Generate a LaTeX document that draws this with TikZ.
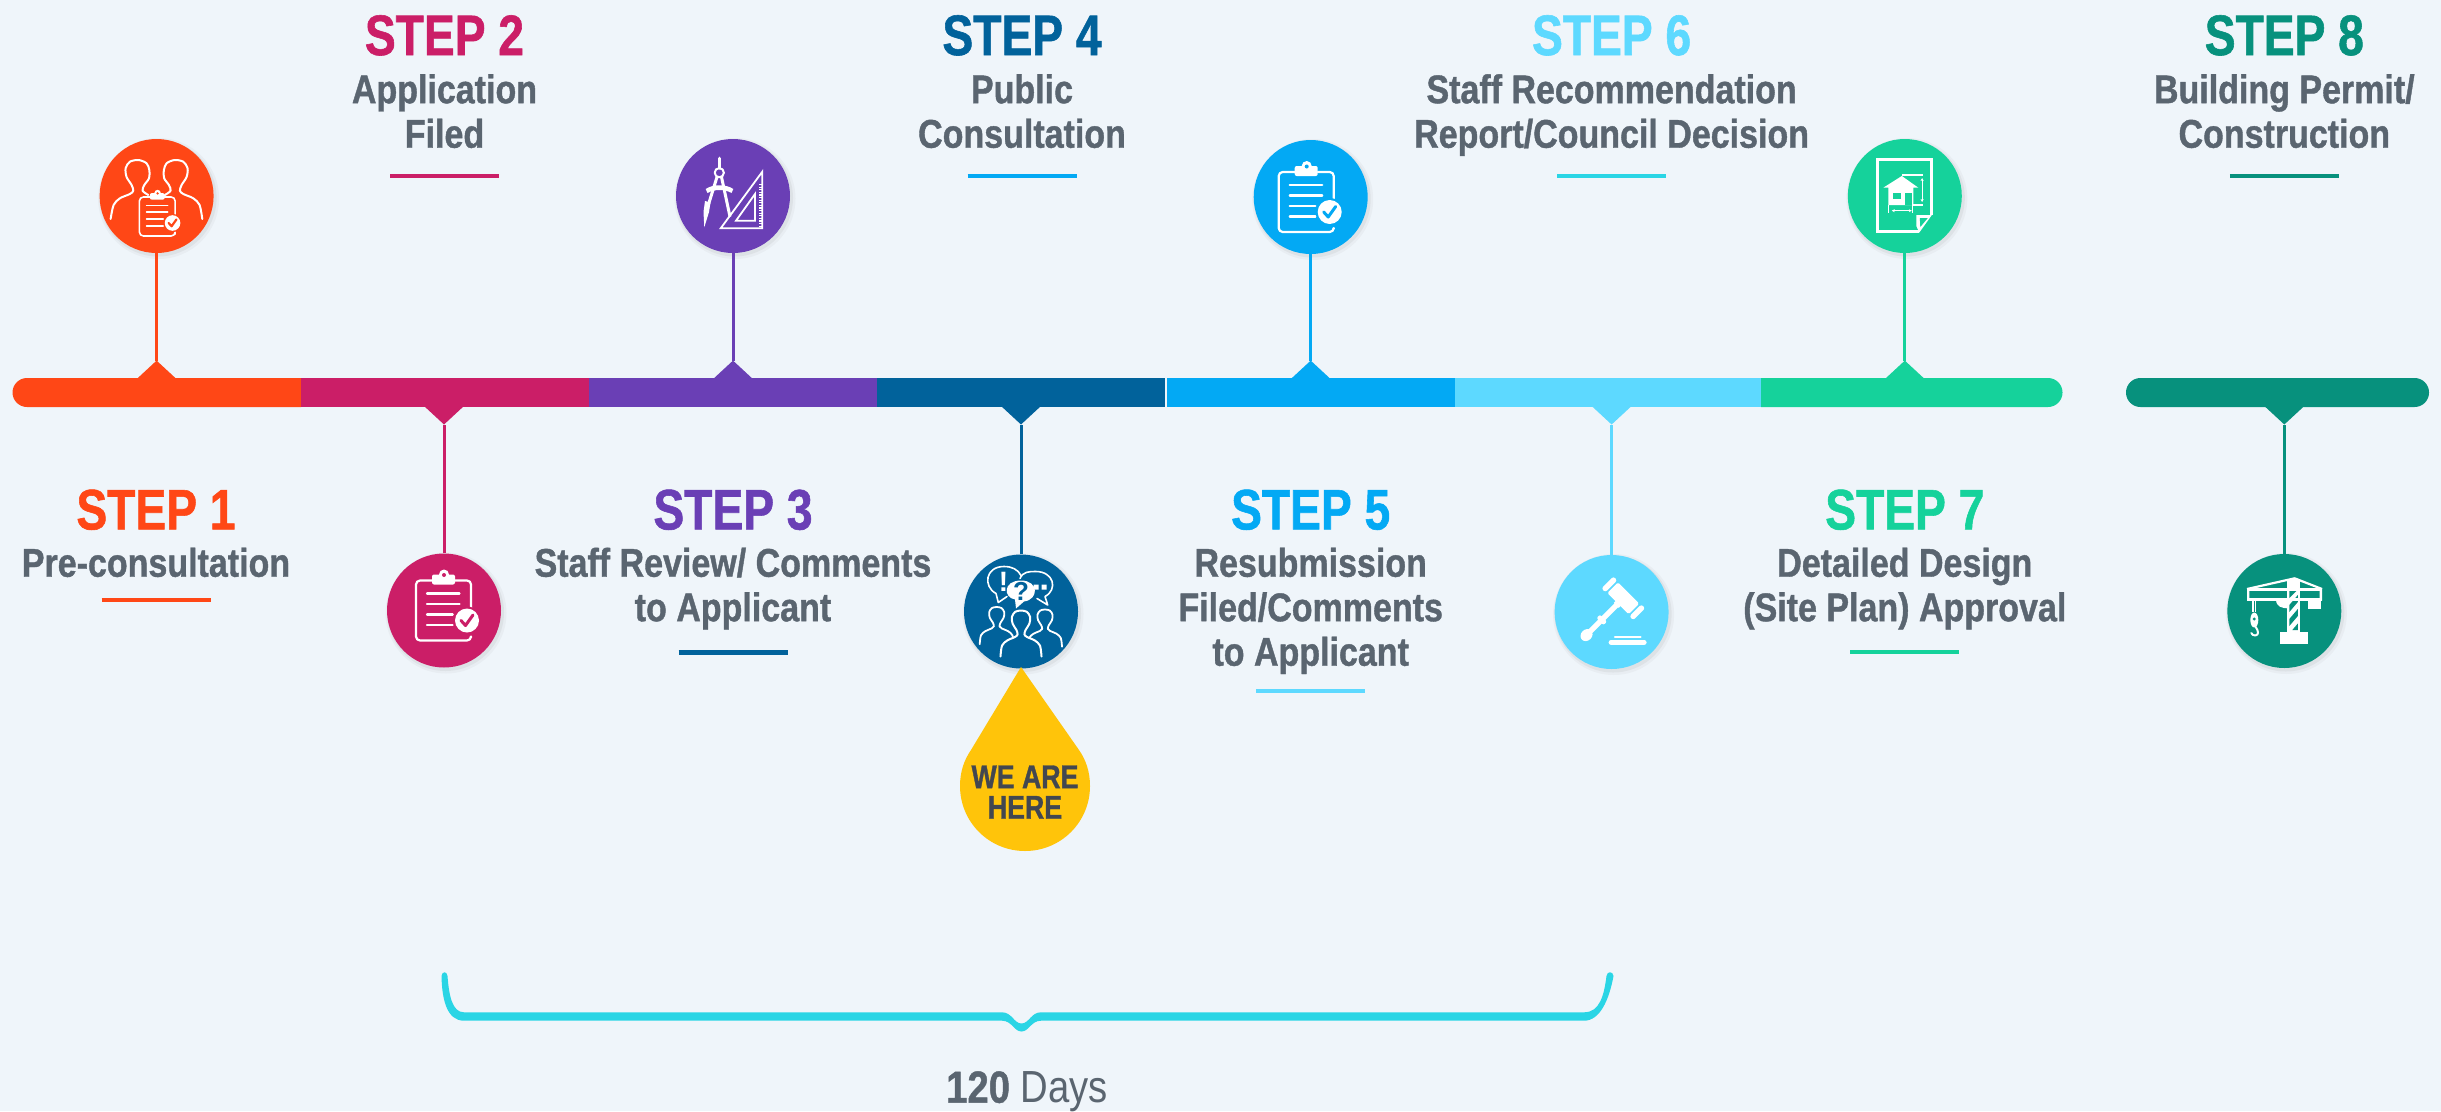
\documentclass[tikz,border=0pt]{standalone}
\usepackage{fontspec}
\usetikzlibrary{arrows.meta}
\setmainfont{Liberation Sans}
\newfontfamily\headfont[FakeStretch=0.81,BoldFeatures={FakeBold=1.0}]{Liberation Sans}
\newfontfamily\subfont[FakeStretch=0.85,BoldFeatures={FakeBold=1.0}]{Liberation Sans}
\definecolor{bgc}{HTML}{EFF5FA}
\definecolor{cOne}{HTML}{FF4716}
\definecolor{cTwo}{HTML}{CB1E67}
\definecolor{cThree}{HTML}{6A3FB5}
\definecolor{cFour}{HTML}{01629B}
\definecolor{cFive}{HTML}{03A9F4}
\definecolor{cSix}{HTML}{5DD9FF}
\definecolor{cSeven}{HTML}{15D29B}
\definecolor{cEight}{HTML}{07917D}
\definecolor{cBrace}{HTML}{2AD5E5}
\definecolor{cText}{HTML}{5A6570}
\definecolor{cDrop}{HTML}{FFC40A}
\definecolor{cDark}{HTML}{424750}
\tikzset{
  disc/.style={circle,inner sep=0pt,minimum size=114pt,fill=#1},
  link/.style={draw=#1,line width=3pt},
  ruleline/.style={draw=#1,line width=4.2pt},
  headtext/.style={inner sep=0pt,anchor=base,text=#1,font=\headfont\bfseries\fontsize{57}{57}\selectfont},
  subtext/.style={inner sep=0pt,anchor=north,align=center,text=cText,font=\subfont\bfseries\fontsize{40}{44.5}\selectfont},
  ico/.style={draw=white,line width=#1,line cap=round,line join=round},
  ico/.default=2pt
}
\newcommand\stepinfo[9]{%
  \node[headtext=#4] (h#1) at (#2,#5) {#3};
  \node[subtext] (s#1) at (#2,#7-30) {\rule{0pt}{30pt}#6};
  \draw[ruleline=#8] (#2-54.5,#9) -- (#2+54.5,#9);
}
% disc with soft shadow
\newcommand\stepdisc[4]{%
  \fill[black!45,opacity=.07] (#2+2,#3+2.5) circle (60.5);
  \fill[black!45,opacity=.11] (#2+1.5,#3+2) circle (58.5);
  \node[disc=#4] (#1) at (#2,#3) {};
}
% clipboard icon: #1 background colour, #2 line width, #3 check width
\newcommand\clipboard[3]{%
  \draw[ico=#2,rounded corners=4pt] (-12,-30)--(-28,-30)--(-28,30)--(27,30)--(27,27);
  \draw[ico=#2,rounded corners=4pt] (11,-30)--(27,-30)--(27,3);
  \fill[white,rounded corners=2pt] (-12,-26) rectangle (11,-36);
  \fill[white] (0,-36) circle (5);
  \fill[#1] (0,-35.5) circle (2);
  \draw[ico=#2] (-17,-17)--(15.5,-17) (-17,-6.5)--(15.5,-6.5) (-17,4)--(8.7,4) (-17,14.5)--(8.7,14.5);
  \fill[#1] (23,10) circle (14);
  \fill[white] (23,10) circle (12);
  \draw[draw=#1,line width=#3,line cap=round,line join=round] (17,10)--(21.5,15)--(29,4.5);
}
% bust outline, local origin at the top of the head
\newcommand\bust[1]{%
  \draw[#1] plot[smooth] coordinates {(-27,59) (-25,45) (-18,38.3) (-8,34) (-4.5,30.7) (-6,25) (-11,17) (-12,8.3) (-7.7,1.7) (0,0) (7.7,1.7) (12,8.3) (11,17) (6,25) (4.5,30.7) (8,34) (18,38.3) (25,45) (27,59)};
}
\begin{document}
\begin{tikzpicture}[x=1pt,y=-1pt]
\useasboundingbox (0,0) rectangle (2441,1111);
\fill[bgc] (0,0) rectangle (2441,1111);

% ---------- timeline bar
\fill[cOne] (301,378) -- (27,378) arc[start angle=90,end angle=270,x radius=14.5,y radius=-14.5] -- (301,407) -- cycle;
\fill[cTwo] (301,378) rectangle (589,407);
\fill[cThree] (589,378) rectangle (877,407);
\fill[cFour] (877,378) rectangle (1165,407);
\fill[cFive] (1166.5,378) rectangle (1455,407);
\fill[cSix] (1455,378) rectangle (1761,407);
\fill[cSeven] (1761,378) -- (2048,378) arc[start angle=90,end angle=-90,x radius=14.5,y radius=-14.5] -- (1761,407) -- cycle;
\fill[cEight,rounded corners=14.4pt] (2126,378) rectangle (2429,407);

% ---------- pointers on the bar
\coordinate (p1) at (156.6,360.6);
\coordinate (p2) at (444,424.5);
\coordinate (p3) at (733,360.6);
\coordinate (p4) at (1021,424.5);
\coordinate (p5) at (1310.7,360.6);
\coordinate (p6) at (1611.6,424.5);
\coordinate (p7) at (1904.8,360.6);
\coordinate (p8) at (2284.3,424.5);
\fill[cOne] (p1) -- ++(-19,17.6) -- ++(38,0) -- cycle;
\fill[cTwo] (p2) -- ++(-19,-17.6) -- ++(38,0) -- cycle;
\fill[cThree] (p3) -- ++(-19,17.6) -- ++(38,0) -- cycle;
\fill[cFour] (p4) -- ++(-19,-17.6) -- ++(38,0) -- cycle;
\fill[cFive] (p5) -- ++(-19,17.6) -- ++(38,0) -- cycle;
\fill[cSix] (p6) -- ++(-19,-17.6) -- ++(38,0) -- cycle;
\fill[cSeven] (p7) -- ++(-19,17.6) -- ++(38,0) -- cycle;
\fill[cEight] (p8) -- ++(-19,-17.6) -- ++(38,0) -- cycle;

% ---------- discs
\stepdisc{c1}{156.6}{196}{cOne}
\stepdisc{c2}{444}{610.5}{cTwo}
\stepdisc{c3}{733}{196}{cThree}
\stepdisc{c4}{1021}{611.5}{cFour}
\stepdisc{c5}{1310.7}{197}{cFive}
\stepdisc{c6}{1611.6}{612}{cSix}
\stepdisc{c7}{1904.8}{196}{cSeven}
\stepdisc{c8}{2284.3}{611}{cEight}

% ---------- connectors
\draw[link=cOne] (c1.south) -- (p1);
\draw[link=cTwo] (c2.north) -- (p2);
\draw[link=cThree] (c3.south) -- (p3);
\draw[link=cFour] (c4.north) -- (p4);
\draw[link=cFive] (c5.south) -- (p5);
\draw[link=cSix] (c6.north) -- (p6);
\draw[link=cSeven] (c7.south) -- (p7);
\draw[link=cEight] (c8.north) -- (p8);

% ---------- labels
\stepinfo{1}{156}{STEP 1}{cOne}{529.4}{Pre-consultation}{576.5}{cOne}{599.8}
\stepinfo{2}{444.5}{STEP 2}{cTwo}{55}{Application\\Filed}{103}{cTwo}{176}
\stepinfo{3}{733}{STEP 3}{cThree}{529.4}{Staff Review/ Comments\\to Applicant}{576.5}{cFour}{652.5}
\stepinfo{4}{1022}{STEP 4}{cFour}{55}{Public\\Consultation}{103}{cFive}{176}
\stepinfo{5}{1310.7}{STEP 5}{cFive}{529.4}{Resubmission\\Filed/Comments\\to Applicant}{576.5}{cSix}{691}
\stepinfo{6}{1611.6}{STEP 6}{cSix}{55}{Staff Recommendation\\Report/Council Decision}{103}{cBrace}{176}
\stepinfo{7}{1904.8}{STEP 7}{cSeven}{529.4}{Detailed Design\\(Site Plan) Approval}{576.5}{cSeven}{652}
\stepinfo{8}{2284.3}{STEP 8}{cEight}{55}{Building Permit/\\Construction}{103}{cEight}{176}

% ---------- we are here
\fill[cDrop] (1021,667) -- (971,750) .. controls (964,760) and (960,772) .. (960,786)
  .. controls (960,822) and (989,851) .. (1025,851)
  .. controls (1061,851) and (1090,822) .. (1090,786)
  .. controls (1090,772) and (1086,760) .. (1079,750) -- cycle;
\node[inner sep=0pt,anchor=north,align=center,text=cDark,font=\headfont\bfseries\fontsize{33}{30.5}\selectfont] (here) at (1025,758) {\rule{0pt}{30pt}WE ARE\\HERE};

% ---------- brace
\fill[cBrace] (441.5,976) .. controls (442,1000) and (447,1020.7) .. (464,1020.7) -- (1002,1020.7)
  .. controls (1012,1020.7) and (1014,1031.5) .. (1021.5,1031.5)
  .. controls (1029,1031.5) and (1031,1020.7) .. (1041,1020.7) -- (1584,1020.7)
  .. controls (1600,1020.7) and (1609,1000) .. (1613.5,976)
  .. controls (1613,971) and (1607,971) .. (1606.5,976)
  .. controls (1604,995) and (1600,1012.3) .. (1584,1012.3) -- (1041,1012.3)
  .. controls (1031,1012.3) and (1029,1023.5) .. (1021.5,1023.5)
  .. controls (1014,1023.5) and (1012,1012.3) .. (1002,1012.3) -- (464,1012.3)
  .. controls (452,1012.3) and (449,995) .. (447.5,976)
  .. controls (447,971) and (442,971) .. (441.5,976) -- cycle;
\node[inner sep=0pt,anchor=base,text=cText,font=\subfont\fontsize{45}{45}\selectfont] (days) at (1027,1102.7) {\textbf{120} Days};

% ---------- icon 1: two people and clipboard
\begin{scope}[shift={(156.6,196)}]
  \draw[ico] plot[smooth] coordinates {(-46,23) (-43,9) (-36.7,2.3) (-26.7,-2) (-23.3,-5.3) (-25,-11) (-30,-19) (-31,-27.7) (-26.7,-34.3) (-18,-36) (-10,-32.7) (-7.3,-26) (-7.6,-17.7) (-12.3,-11) (-14,-5.3) (-8.3,-1)};
  \draw[ico] plot[smooth] coordinates {(45.7,23) (43,9) (36.7,2.3) (26.7,-2) (23.3,-5.3) (25,-11) (30,-19) (31,-27.7) (26.7,-34.3) (18,-36) (10,-32.7) (7.3,-26) (7.6,-17.7) (12.3,-11) (14,-5.3) (8.3,-1)};
  \begin{scope}[shift={(1,20.5)},scale=.65]
    \clipboard{cOne}{1.6pt}{2.2pt}
  \end{scope}
\end{scope}
% icon 2
\begin{scope}[shift={(444,610.5)}]
  \clipboard{cTwo}{2.2pt}{3pt}
\end{scope}
% icon 5
\begin{scope}[shift={(1306.7,202)}]
  \clipboard{cFive}{2.2pt}{3pt}
\end{scope}
% icon 3: compass and set square
\begin{scope}[shift={(733,196)}]
  \draw[ico=3.2pt] (-13.7,-37.7) -- (-13.7,-28);
  \draw[ico=2pt] (-13.7,-23.3) circle (4.6);
  \draw[white,line width=3pt] (-16,-19) -- (-25,10);
  \draw[white,line width=3pt] (-11.5,-19) -- (-3,20.7);
  \fill[white] (-27.3,-7) .. controls (-20,-12) and (-7,-12) .. (0.3,-7) -- (-1.5,-3) .. controls (-8,-7) and (-19,-7) .. (-25.5,-3) -- cycle;
  \fill[white] (-28,5) -- (-22.5,6.5) -- (-24,16) -- (-28.7,31.3) -- (-29.5,16) -- cycle;
  \draw[ico=1.8pt,line join=miter] (29.3,-24.3) -- (29.3,32.3) -- (-12.3,32.3) -- cycle;
  \draw[ico=1.8pt,line join=miter] (22,-2) -- (22,24.7) -- (3,24.7) -- cycle;
  \draw[white,line width=2.5pt,dash pattern=on 1.2pt off 1.4pt] (27.4,-12) -- (27.4,31);
\end{scope}
% icon 4: people and speech bubbles
\begin{scope}[shift={(1021,611.5)}]
  \begin{scope}[shift={(-24.3,-4.5)},scale=.63]\bust{ico=1.8pt}\end{scope}
  \begin{scope}[shift={(24,-2)},scale=.63]\bust{ico=1.8pt}\end{scope}
  \begin{scope}[shift={(0,-1)},xscale=.76,yscale=.78]\bust{ico=2pt,fill=cFour}\end{scope}
  \draw[ico=1.6pt] (-14,-15) -- (-22.7,-9) -- (-25,-18) .. controls (-38,-25) and (-36,-45) .. (-17,-45) .. controls (-9,-45) and (-3,-42) .. (0,-36);
  \draw[ico=1.6pt] (-1,-33) .. controls (2,-40) and (8,-40) .. (14.7,-40) .. controls (33,-40) and (37,-22) .. (24,-15) -- (26.7,-6.5) -- (16,-13);
  \fill[white] (-5,-3) -- (-6,-12) .. controls (-18,-14) and (-18,-31) .. (0,-31) .. controls (18,-31) and (18,-12) .. (3,-10) -- cycle;
  \node[inner sep=0pt,text=cFour,font=\bfseries\fontsize{26}{26}\selectfont] (qm) at (0,-20) {?};
  \node[inner sep=0pt,text=white,font=\bfseries\fontsize{28}{28}\selectfont] (em) at (-17.5,-30) {!};
  \fill[white] (12.5,-27) rectangle (17.5,-22) (20.5,-27) rectangle (25.5,-22);
\end{scope}
% icon 6: gavel
\begin{scope}[shift={(1611.6,612)}]
  \begin{scope}[shift={(11.7,-13.7)},rotate=45]
    \fill[white,rounded corners=1.5pt] (-7.5,-15) rectangle (7.5,15);
    \fill[white,rounded corners=2.5pt] (-8.5,-22.5) rectangle (8.5,-17);
    \fill[white,rounded corners=2.5pt] (-8.5,17) rectangle (8.5,22.5);
    \fill[white] (-10,-3.5) rectangle (-7,3.5);
    \fill[white] (-50,-2.6) rectangle (-9,2.6);
    \fill[white,rounded corners=2pt] (-33,-5) rectangle (-28,5);
    \fill[white] (-52,0) ellipse (6.5 and 5.5);
  \end{scope}
  \draw[ico=2.2pt] (3.3,24.7) -- (29,24.7);
  \draw[ico=5pt] (-0.5,30.3) -- (32.5,30.3);
\end{scope}
% icon 7: plan of a house
\begin{scope}[shift={(1904.8,196)}]
  \draw[white,line width=3pt,line join=miter] (27,19) -- (27,-36.7) -- (-27.4,-36.7) -- (-27.4,35) -- (14.5,35);
  \fill[white] (27,19) -- (11.5,19) -- (11.5,30) -- (14.5,36.5) -- cycle;
  \fill[cSeven] (15,22) -- (23,22) -- (15.5,31) -- cycle;
  \fill[white] (-3,-20) -- (-21.5,-8.3) -- (-16.5,-8.3) -- (-16.5,9) -- (8.5,9) -- (8.5,-8.3) -- (13.5,-8.3) -- cycle;
  \fill[cSeven] (-11.4,-3.3) rectangle (-3.8,3);
  \fill[cSeven] (0.5,-3) rectangle (7.5,9);
  \draw[white,line width=1.1pt] (-3,-21) -- (18.5,-21) (8.5,9) -- (18.5,9) (-16.5,9) -- (-16.5,17.3) (7.5,9) -- (7.5,17.3);
  \draw[white,line width=1.1pt,{Stealth[length=3pt,width=3pt]}-{Stealth[length=3pt,width=3pt]}] (17.3,-18) -- (17.3,6);
  \draw[white,line width=1.1pt,{Stealth[length=3pt,width=3pt]}-{Stealth[length=3pt,width=3pt]}] (-13,14.7) -- (7,14.7);
\end{scope}
% icon 8: tower crane
\begin{scope}[shift={(2284.3,611)}]
  \fill[white] (-4,21.3) rectangle (23.3,33.3);
  \fill[white] (2.7,-32) rectangle (16,21.3);
  \fill[cEight] (5,-13) -- (12,-20) -- (5,-20) -- cycle;
  \fill[cEight] (5,1) -- (13.5,-9) -- (13.5,-16) -- (5,-6) -- cycle;
  \fill[cEight] (5,15) -- (13.5,5) -- (13.5,-2) -- (5,8) -- cycle;
  \fill[cEight] (8,19) -- (13.5,12.5) -- (13.5,19) -- cycle;
  \draw[white,line width=2.2pt,line join=round] (-37.3,-22) -- (10.3,-32.7) -- (37.7,-22);
  \fill[white] (-37.3,-23) rectangle (37.7,-20);
  \fill[white] (-37.3,-13) rectangle (37.7,-10.5);
  \fill[white] (-37.3,-23) rectangle (-35,-10.5) (35.4,-23) rectangle (37.7,-10.5);
  \fill[white] (23.7,-11.7) rectangle (36.7,-1.7);
  \fill[white] (-8.3,-11) -- (2.7,-11) -- (2.7,-2.7) .. controls (-2,-3) and (-8,-4) .. (-8.3,-11) -- cycle;
  \draw[white,line width=1.1pt] (-31.3,-11) -- (-31.3,1) (-29,-11) -- (-29,1);
  \fill[white] (-30,9) ellipse (4 and 7.5);
  \fill[cEight] (-30,8) circle (1.6);
  \draw[ico=2pt] (-28.5,16) .. controls (-26,20) and (-25,24) .. (-29,24.5) .. controls (-31,24.5) and (-32.5,23.5) .. (-33,22);
\end{scope}
\end{tikzpicture}
\end{document}
